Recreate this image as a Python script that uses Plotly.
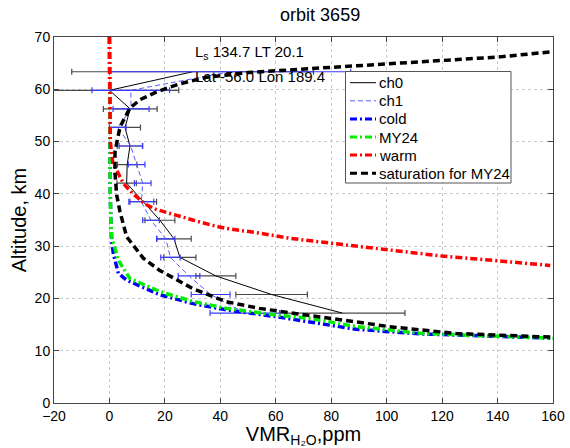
import plotly.graph_objects as go

# --- retrieved profile levels (km) ---
alt_levels = [17.2, 20.75, 24.3, 27.85, 31.4, 34.95, 38.5, 42.05, 45.6, 49.15, 52.7, 56.25, 59.8, 63.35]
ch0 = [84, 58.5, 38.4, 25.4, 23.3, 18.2, 12.2, 6.2, 6.4, 7.4, 5.6, 7.5, 0, 30]
ch0_err = [22.6, 12.9, 7.2, 5.8, 6.2, 5.4, 4.8, 3.5, 3.5, 4.6, 5.6, 9.7, 25, 43.6]
ch1 = [48.9, 36.5, 28.7, 22.0, 20.3, 15.0, 11.5, 12.0, 9.8, 7.7, 3.0, 7.8, 7.7, 43.5]
ch1_err = [12.6, 7.0, 3.9, 3.5, 3.3, 3.0, 4.5, 3.0, 3.0, 4.2, 3.0, 6.5, 14.0, 43.5]

# --- model profiles ---
cold_alt = [70, 60, 50, 40, 35, 31, 28.6, 24.8, 23.5, 20.7, 19, 17.8, 16.5, 15.5, 14.1, 13.2, 12.8, 12.4]
cold_vmr = [0, 0, 0.1, 0.3, 0.5, 0.8, 1.4, 3.2, 6.2, 18.2, 30.2, 42.3, 60.3, 72.3, 89, 113, 137, 159]

my24_alt = [70, 60, 50, 40, 35, 31.8, 27.3, 23.8, 21.3, 19.4, 18.1, 16.8, 16.2, 14.6, 13.3, 12.8, 12.4]
my24_vmr = [0, 0, 0.1, 0.3, 0.5, 0.8, 3.2, 7.4, 18.2, 30.2, 42.3, 60.3, 72.3, 89, 113, 137, 160]

warm_alt = [70, 60, 50, 46, 44, 42, 40, 38, 37, 36, 35, 34, 33.4, 32.5, 31.5, 30.5, 29.3, 28.1, 27.2, 26.3]
warm_vmr = [0, 0, 0.3, 1.2, 3, 5, 8.5, 13, 17, 23, 30, 37, 42, 54, 65, 81, 101, 120, 140, 159]

sat_alt = [12.6, 13.3, 14.6, 16.8, 18.1, 19.4, 21.9, 25.4, 27.7, 31.8, 36.6, 39.8, 44, 48, 52.8,
           56.4, 58, 59.5, 61, 62.3, 63.2, 63.8, 65.1, 66.2, 67.2]
sat_vmr = [159, 125, 101, 72, 54, 42, 30, 18, 12.2, 6.2, 3.8, 2.6, 2, 2, 3.8,
           7.4, 11, 17, 25, 35, 50, 68, 105, 141, 160]

x_ticks = [-20, 0, 20, 40, 60, 80, 100, 120, 140, 160]
y_ticks = [0, 10, 20, 30, 40, 50, 60, 70]

title_text = "orbit 3659"
info1 = "L<sub>s</sub> 134.7 LT 20.1"
info2 = "Lat -56.0 Lon 189.4"

FONT = "Liberation Sans, Arial, sans-serif"
W, H = 570, 448
ML, MR, MT, MB = 54, 17, 37, 45
PW, PH = W - ML - MR, H - MT - MB


def px_x(px):
    return (px - ML) / PW


def px_y(py):
    return (H - MB - py) / PH


DASHDOT = "7px,3px,2px,3px"
styles = [
    ("ch0", dict(color="black", width=1, dash="solid")),
    ("ch1", dict(color="#5c5cff", width=1, dash="5px,3px")),
    ("cold", dict(color="#0000ff", width=3.5, dash=DASHDOT)),
    ("MY24", dict(color="#00ee00", width=3.5, dash=DASHDOT)),
    ("warm", dict(color="#ff0000", width=3.5, dash=DASHDOT)),
    ("saturation for MY24", dict(color="black", width=3.5, dash="7px,4px")),
]
st = dict(styles)

fig = go.Figure()
fig.add_trace(go.Scatter(
    x=ch0, y=alt_levels, mode="lines", name="ch0", line=st["ch0"],
    error_x=dict(type="data", array=ch0_err, visible=True, color="#4a4a4a", thickness=1.2, width=3),
))
fig.add_trace(go.Scatter(
    x=ch1, y=alt_levels, mode="lines", name="ch1", line=st["ch1"],
    error_x=dict(type="data", array=ch1_err, visible=True, color="#3a3aff", thickness=1.2, width=3),
))
fig.add_trace(go.Scatter(x=cold_vmr, y=cold_alt, mode="lines", name="cold", line=st["cold"]))
fig.add_trace(go.Scatter(x=my24_vmr, y=my24_alt, mode="lines", name="MY24", line=st["MY24"]))
fig.add_trace(go.Scatter(x=warm_vmr, y=warm_alt, mode="lines", name="warm", line=st["warm"]))
fig.add_trace(go.Scatter(x=sat_vmr, y=sat_alt, mode="lines", name="saturation for MY24",
                         line=st["saturation for MY24"]))

fig.add_annotation(x=30, y=67.1, xref="x", yref="y", text=info1, showarrow=False,
                   xanchor="left", yanchor="middle", font=dict(family=FONT, size=15, color="black"))
fig.add_annotation(x=30, y=62.4, xref="x", yref="y", text=info2, showarrow=False,
                   xanchor="left", yanchor="middle", font=dict(family=FONT, size=15, color="black"))

# --- legend box drawn in the MATLAB style ---
box_l, box_t, box_r, box_b = 345.5, 71.5, 511, 183
fig.add_shape(type="rect", xref="paper", yref="paper",
              x0=px_x(box_l), x1=px_x(box_r), y0=px_y(box_b), y1=px_y(box_t),
              line=dict(color="#555555", width=1), fillcolor="white", layer="above")
for i, (name, ls) in enumerate(styles):
    yy = px_y(82.7 + i * 18.1)
    fig.add_shape(type="line", xref="paper", yref="paper",
                  x0=px_x(350), x1=px_x(376), y0=yy, y1=yy,
                  line=dict(color=ls["color"], width=min(ls["width"], 3), dash=ls["dash"]),
                  layer="above")
    fig.add_annotation(x=px_x(377), y=yy, xref="paper", yref="paper", text=name,
                       showarrow=False, xanchor="left", yanchor="middle",
                       font=dict(family=FONT, size=15, color="black"))

axis_common = dict(
    showgrid=True, gridcolor="#c8c8c8", griddash="dot", gridwidth=1,
    showline=True, linecolor="#444444", linewidth=1, mirror="ticks",
    ticks="inside", ticklen=5, tickcolor="#444444", automargin=False,
    zeroline=False, tickfont=dict(family=FONT, size=14, color="black"),
)

fig.update_layout(
    width=W, height=H,
    margin=dict(l=ML, r=MR, t=MT, b=MB),
    paper_bgcolor="white", plot_bgcolor="white",
    font=dict(family=FONT, color="black"),
    title=dict(text=title_text, x=304 / W, xref="paper", xanchor="center",
               y=1 - 15 / H, yref="container", yanchor="middle",
               font=dict(family=FONT, size=18, color="black")),
    xaxis=dict(range=[-20, 160], tickvals=x_ticks,
               title=dict(text="VMR<sub>H₂O</sub>,ppm", standoff=0,
                          font=dict(family=FONT, size=20, color="black")),
               **axis_common),
    yaxis=dict(range=[0, 70], tickvals=y_ticks,
               title=dict(text="Altitude, km", standoff=2,
                          font=dict(family=FONT, size=20, color="black")),
               **axis_common),
    showlegend=False,
)

fig.write_html("out.html", config={"displayModeBar": False},
               post_script="document.body.style.margin='0';")
